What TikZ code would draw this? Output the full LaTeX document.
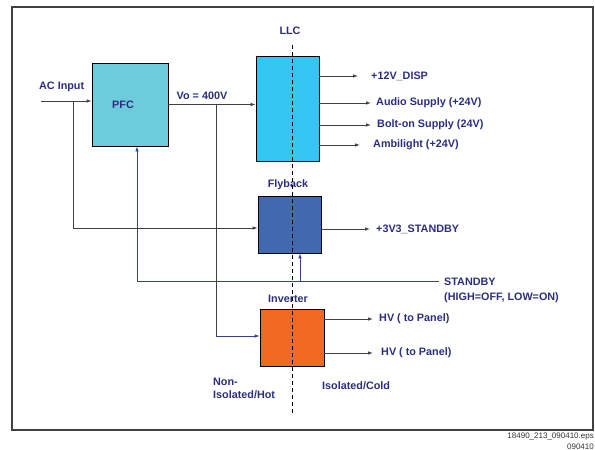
\documentclass[tikz,border=0pt]{standalone}
\usepackage{fontspec}
\setmainfont{Liberation Sans}
\usetikzlibrary{arrows.meta}

\definecolor{txtblue}{HTML}{2B2E7E}
\definecolor{sigblue}{HTML}{3A3F8F}
\definecolor{pfcfill}{HTML}{6DCCDC}
\definecolor{llcfill}{HTML}{35C5F1}
\definecolor{flyfill}{HTML}{4169AF}
\definecolor{invfill}{HTML}{F26A22}

\begin{document}
\begin{tikzpicture}[x=1pt, y=-1pt,
				block/.style={draw=black, line width=0.8pt, inner sep=0pt},
				lbl/.style={font=\fontsize{10.8}{13}\selectfont\bfseries, text=txtblue, inner sep=0pt},
				wire/.style={line width=0.8pt, draw=black!75},
				sig/.style={line width=0.8pt, draw=sigblue},
				arr/.style={-{Latex[length=5pt, width=3.5pt]}}
				]
				\useasboundingbox (0,0) rectangle (595,450);
				\draw[draw=black!75, line width=1.2pt] (12,7) rectangle (593,430);
				
				% blocks
				\node[block, fill=pfcfill, minimum width=76pt, minimum height=83pt] (pfc) at (130,104.5) {};
				\node[lbl] at (123,105) {PFC};
				\node[block, fill=llcfill, minimum width=63pt, minimum height=105pt] (llc) at (287.5,108.5) {};
				\node[lbl] (llclbl) at (290,31) {LLC};
				\node[block, fill=flyfill, minimum width=63pt, minimum height=57pt] (fly) at (289.5,224.5) {};
				\node[lbl] (flylbl) at (288,185) {Flyback};
				\node[block, fill=invfill, minimum width=64pt, minimum height=57pt] (inv) at (292,337.5) {};
				\node[lbl] (invlbl) at (288,299) {Inverter};
				
				% inputs
				\coordinate (acin) at (41,101);
				\coordinate (acsplit) at (73,101);
				\coordinate (vosplit) at (216,104.5);
				\node[lbl, anchor=west] (aclbl) at (39,87) {AC Input};
				\node[lbl] (volbl) at (202,96) {Vo = 400V};
				\draw[wire, arr] (acin) -- (acin -| pfc.west);
				\draw[wire, arr] (acsplit) |- ([yshift=-3.5pt]fly.west);
				\draw[wire, arr] (pfc.east) -- (pfc.east -| llc.west);
				\draw[wire] (vosplit) -- (216,336);
				\draw[sig, arr] (216,336) -- (216,336 -| inv.west);
				
				% standby control
				\coordinate (stby) at (439,281);
				\coordinate (stbytap) at (300,281);
				\draw[sig, arr] (stby) -| ([xshift=7pt]pfc.south);
				\draw[sig, arr] (stbytap) -- (stbytap |- fly.south);
				\node[lbl, anchor=west, align=left] (stbylbl) at (444,290.5) {STANDBY\\[2pt](HIGH=OFF, LOW=ON)};
				
				% outputs
				\foreach \y/\xe/\xt/\txt in {76/358/371/+12V\_DISP, 103/371/376/Audio Supply (+24V), 125/371/377/Bolt-on Supply (24V), 145/360/373/Ambilight (+24V)} {
					\draw[wire, arr] (llc.east |- 0,\y) -- (\xe,\y);
					\node[lbl, anchor=west] at (\xt,\y) {\txt};
				}
				\draw[wire, arr] (fly.east |- 0,229) -- (370,229);
				\node[lbl, anchor=west] (flyout) at (376,229) {+3V3\_STANDBY};
				\foreach \y/\xt in {319/379, 353/381} {
					\draw[wire, arr] (inv.east |- 0,\y) -- (373,\y);
					\node[lbl, anchor=west] at (\xt,\y) {HV ( to Panel)};
				}
				
				% isolation barrier
				\coordinate (isotop) at (292,45);
				\coordinate (isobot) at (292,413);
				\draw[black, line width=0.8pt, dash pattern=on 4pt off 3pt] (isotop) -- (isobot);
				\node[lbl, anchor=west, align=left] (hotlbl) at (213,388.5) {Non-\\Isolated/Hot};
				\node[lbl, anchor=west] (coldlbl) at (322,386) {Isolated/Cold};
				
				% file tag
				\node[anchor=east, font=\fontsize{8}{9.5}\selectfont, text=black!80, inner sep=0pt] (tag) at (594,437) {18490\_213\_090410.eps};
				\node[anchor=east, font=\fontsize{8}{9.5}\selectfont, text=black!80, inner sep=0pt] (date) at (594,447) {090410};
			\end{tikzpicture}
\end{document}
